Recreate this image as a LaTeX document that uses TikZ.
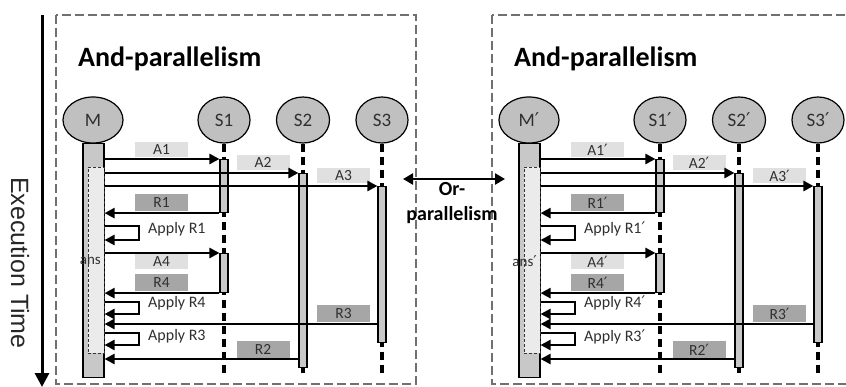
\documentclass[tikz,border=0pt]{standalone}
\usepackage{fontspec}
\setmainfont{Carlito}
\newfontfamily\arialfont{Liberation Sans}
\newfontfamily\primefont{DejaVu Sans}
\usetikzlibrary{arrows.meta,shapes.geometric}
\definecolor{boxgray}{HTML}{707070}
\definecolor{ellfill}{HTML}{C0C0C0}
\definecolor{barfill}{HTML}{C8C8C8}
\definecolor{innerfill}{HTML}{EBEBEB}
\definecolor{lightlab}{HTML}{E0E0E0}
\definecolor{darklab}{HTML}{A6A6A6}
\definecolor{txt}{HTML}{303030}
\newcommand\pr{{\primefont ′}}
\tikzset{
  panelbox/.style={draw=boxgray, line width=2.8pt, dash pattern=on 9pt off 4pt},
  titletxt/.style={font=\fontsize{28}{30}\selectfont\bfseries, anchor=base west, inner sep=0},
  actor/.style={ellipse, draw=black, line width=1.2pt, fill=ellfill, minimum height=46pt, inner sep=0, text=txt, font=\fontsize{19}{20}\selectfont},
  lifeline/.style={line width=3.2pt, dash pattern=on 8pt off 5pt},
  sbar/.style={draw=black, line width=1.1pt, fill=barfill, minimum width=8pt, inner sep=0, anchor=north},
  mbar/.style={draw=black, line width=1.1pt, fill=barfill, minimum width=21pt, minimum height=234pt, inner sep=0, anchor=north},
  innerbox/.style={draw=black!80, line width=0.7pt, dash pattern=on 3pt off 2pt, fill=innerfill, minimum width=16pt, minimum height=186pt, inner sep=0},
  lab/.style={minimum width=53pt, minimum height=15pt, inner sep=0, text=txt, font=\fontsize{15.5}{15}\selectfont},
  lightbox/.style={lab, fill=lightlab},
  darkbox/.style={lab, fill=darklab, minimum height=17pt},
  msg/.style={line width=2.4pt, -{Triangle[length=10pt,width=10pt]}},
  applytxt/.style={anchor=west, font=\fontsize{16}{16}\selectfont, text=txt, inner sep=0},
  anstxt/.style={anchor=east, font=\fontsize{15}{15}\selectfont, text=txt, inner sep=0},
  timeline/.style={line width=3pt, -{Triangle[length=14pt,width=14pt]}},
  exectxt/.style={font=\arialfont\fontsize{25}{25}\selectfont, text=black!85, inner sep=0},
  orarrow/.style={line width=2.6pt, {Triangle[length=10pt,width=11pt]}-{Triangle[length=10pt,width=11pt]}},
  ortxt/.style={font=\fontsize{20}{25}\selectfont\bfseries, align=center, inner sep=0},
}
\newcommand\seqpanel[3]{%
\begin{scope}[xshift=#1pt, name prefix=#3-]
  \draw[panelbox] (56,15) rectangle (416,384);
  \node[titletxt] (title) at (78,67) {And-parallelism};
  \node[actor, minimum width=60pt] (M) at (93,120) {M#2};
  \node[actor, minimum width=52pt] (S1) at (224,120) {S1#2};
  \node[actor, minimum width=53pt] (S2) at (303,120) {S2#2};
  \node[actor, minimum width=52pt] (S3) at (382,120) {S3#2};
  \draw[lifeline] (S1.south) -- (S1.south |- 0,377);
  \draw[lifeline] (S2.south) -- (S2.south |- 0,377);
  \draw[lifeline] (S3.south) -- (S3.south |- 0,377);
  \node[mbar] (Mb) at (93.5,143) {};
  \node[innerbox] (inner) at (96,260) {};
  \node[anstxt] (ans) at (101,261) {ans#2};
  \node[sbar, minimum height=53pt] (b1) at (224,159) {};
  \node[sbar, minimum height=194pt] (b2) at (303,173) {};
  \node[sbar, minimum height=156pt] (b3) at (382,186) {};
  \node[sbar, minimum height=39pt] (b4) at (224,253) {};
  \node[lightbox] (A1) at (161.5,149.5) {A1#2};
  \node[lightbox] (A2) at (263,162.5) {A2#2};
  \node[lightbox] (A3) at (343.5,175.5) {A3#2};
  \node[darkbox] (R1) at (161.5,202.5) {R1#2};
  \node[lightbox] (A4) at (161.5,261.5) {A4#2};
  \node[darkbox] (R4) at (161.5,282.5) {R4#2};
  \node[darkbox] (R3) at (343.5,313.5) {R3#2};
  \node[darkbox] (R2) at (263,349.5) {R2#2};
  \draw[msg] (Mb.east |- b1.north) -- (b1.north west);
  \draw[msg] (Mb.east |- b2.north) -- (b2.north west);
  \draw[msg] (Mb.east |- b3.north) -- (b3.north west);
  \draw[msg] (b1.south west) -- (Mb.east |- b1.south);
  \coordinate (L1) at (139,226);
  \draw[msg] (Mb.east |- L1) -- (L1) -- ++(0,14) -- (Mb.east |- 0,240);
  \draw[msg] (Mb.east |- b4.north) -- (b4.north west);
  \draw[msg] (b4.south west) -- (Mb.east |- b4.south);
  \coordinate (L2) at (139,302);
  \draw[msg] (Mb.east |- L2) -- (L2) -- ++(0,12) -- (Mb.east |- 0,314);
  \coordinate (r3) at (382,324);
  \draw[msg] (b3.west |- r3) -- (Mb.east |- r3);
  \coordinate (L3) at (139,333);
  \draw[msg] (Mb.east |- L3) -- (L3) -- ++(0,12) -- (Mb.east |- 0,345);
  \coordinate (r2) at (303,359);
  \draw[msg] (b2.west |- r2) -- (Mb.east |- r2);
  \node[applytxt] (ap1) at (148,229) {Apply R1#2};
  \node[applytxt] (ap4) at (148,303) {Apply R4#2};
  \node[applytxt] (ap3) at (148,336.5) {Apply R3#2};
\end{scope}}
\begin{document}
\begin{tikzpicture}[x=1pt, y=-1pt]
  \useasboundingbox (0,0) rectangle (846,387);
  \fill[white] (0,0) rectangle (846,387);
  \clip (0,0) rectangle (846,387);
  \seqpanel{0}{}{L}
  \seqpanel{436}{\pr}{R}
  \coordinate (t0) at (42,15);
  \coordinate (t1) at (42,387);
  \draw[timeline] (t0) -- (t1);
  \node[exectxt, rotate=-90] (exec) at (20,263) {Execution Time};
  \coordinate (or0) at (403,179);
  \coordinate (or1) at (505,179);
  \draw[orarrow] (or0) -- (or1);
  \node[ortxt] (or) at (452,203) {Or-\\parallelism};
\end{tikzpicture}
\end{document}
